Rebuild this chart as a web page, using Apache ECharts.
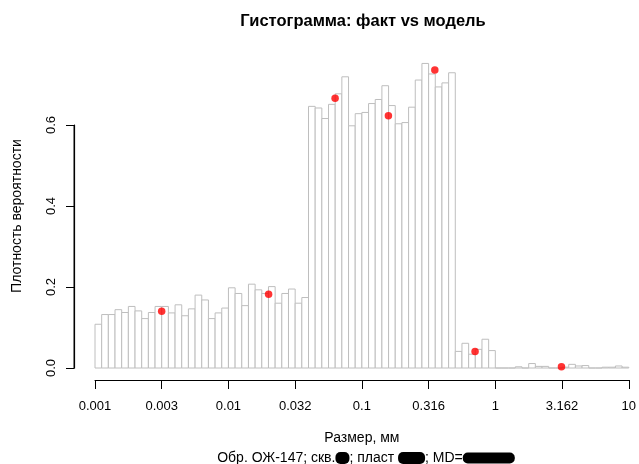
<!DOCTYPE html>
<html>
<head>
<meta charset="utf-8">
<script src="https://cdn.jsdelivr.net/npm/echarts@6/dist/echarts.min.js"></script>
<style>
  html, body { margin: 0; padding: 0; background: #fff; }
  #chart { width: 639px; height: 464px; }
</style>
</head>
<body>
<div id="chart"></div>
<script>
// Histogram bins: equal width in log10(size), from 0.001 mm to 10 mm
const logMin = -3;
const logMax = 1;

// Observed probability density per bin (80 bins)
const density = [
  0.108, 0.132, 0.132, 0.144, 0.137, 0.152, 0.141, 0.122, 0.137, 0.152,
  0.152, 0.136, 0.156, 0.129, 0.146, 0.180, 0.168, 0.122, 0.136, 0.148,
  0.198, 0.184, 0.154, 0.207, 0.193, 0.184, 0.201, 0.160, 0.184, 0.195,
  0.160, 0.174, 0.646, 0.642, 0.616, 0.651, 0.677, 0.719, 0.598, 0.628,
  0.631, 0.653, 0.663, 0.697, 0.648, 0.603, 0.606, 0.644, 0.711, 0.752,
  0.726, 0.694, 0.704, 0.729, 0.041, 0.061, 0.034, 0.046, 0.071, 0.043,
  0.000, 0.000, 0.000, 0.003, 0.000, 0.011, 0.004, 0.004, 0.000, 0.000,
  0.002, 0.009, 0.005, 0.006, 0.000, 0.000, 0.002, 0.002, 0.005, 0.002
];

// Model density points: size (mm) and density
const modelSize = [0.00316, 0.02, 0.063, 0.158, 0.352, 0.705, 3.13];
const modelDensity = [0.140, 0.182, 0.666, 0.623, 0.736, 0.041, 0.003];

// Axis ticks (log10 positions) and their labels
const xTickStep = 0.5;
const xTickLabels = ['0.001', '0.003', '0.01', '0.032', '0.1', '0.316', '1', '3.162', '10'];
const yTickStep = 0.2;
const yTickLabels = ['0.0', '0.2', '0.4', '0.6'];
const yMax = 0.6;

const binWidth = (logMax - logMin) / density.length;
const bins = density.map((d, i) => [logMin + i * binWidth, logMin + (i + 1) * binWidth, d]);
const points = modelSize.map((s, i) => [Math.log10(s), modelDensity[i]]);

const FONT = '"Liberation Sans", Arial, Helvetica, sans-serif';

const chart = echarts.init(document.getElementById('chart'), null, { renderer: 'canvas' });

chart.setOption({
  animation: false,
  backgroundColor: '#ffffff',
  textStyle: { fontFamily: FONT, color: '#000' },
  title: [
    {
      text: 'Гистограмма: факт vs модель',
      left: 358, top: 8, textAlign: 'center',
      textStyle: { fontFamily: FONT, fontSize: 16.5, fontWeight: 'bold', color: '#000' }
    },
    {
      text: 'Обр. ОЖ-147; скв.{a|}; пласт {b|}; MD={c|}',
      left: 361, top: 446, textAlign: 'center',
      textStyle: {
        fontFamily: FONT, fontSize: 14, fontWeight: 'normal', color: '#000',
        rich: {
          a: { backgroundColor: '#000', borderRadius: 5, width: 14, height: 12 },
          b: { backgroundColor: '#000', borderRadius: 5, width: 27, height: 12 },
          c: { backgroundColor: '#000', borderRadius: 5, width: 52, height: 11 }
        }
      }
    }
  ],
  graphic: [
    {
      id: 'ylab',
      type: 'text',
      x: 17, y: 216,
      rotation: Math.PI / 2,
      style: {
        text: 'Плотность вероятности',
        font: '14px ' + FONT,
        fill: '#000',
        align: 'center',
        verticalAlign: 'middle'
      }
    }
  ],
  grid: [
    // plotting area: x spans 0.001..10, y spans 0..0.6
    { left: 95, right: 8, top: 125, bottom: 96, containLabel: false },
    // strip carrying the density axis; its x = 0 sits left of the bars
    { left: 64, width: 20, top: 125, bottom: 96, containLabel: false }
  ],
  xAxis: [
    {
      type: 'value',
      gridIndex: 0,
      min: logMin, max: logMax, interval: xTickStep,
      offset: 12,
      name: 'Размер, мм',
      nameLocation: 'middle',
      nameGap: 51,
      nameTextStyle: { fontFamily: FONT, fontSize: 14, color: '#000' },
      axisLine: { show: true, onZero: false, lineStyle: { color: '#000', width: 1 } },
      axisTick: { show: true, length: 9, lineStyle: { color: '#000' } },
      axisLabel: {
        fontFamily: FONT, fontSize: 13, color: '#000', margin: 20,
        formatter: v => xTickLabels[Math.round((v - logMin) / xTickStep)]
      },
      splitLine: { show: false }
    },
    {
      type: 'value',
      gridIndex: 1,
      min: -1, max: 1,
      show: false
    }
  ],
  yAxis: [
    {
      type: 'value',
      gridIndex: 0,
      min: 0, max: yMax,
      show: false
    },
    {
      type: 'value',
      gridIndex: 1,
      min: 0, max: yMax, interval: yTickStep,
      axisLine: { show: true, onZero: true, lineStyle: { color: '#000', width: 1 } },
      axisTick: { show: true, length: 8, lineStyle: { color: '#000' } },
      axisLabel: {
        fontFamily: FONT, fontSize: 13, color: '#000', margin: 6, rotate: 90,
        formatter: v => yTickLabels[Math.round(v / yTickStep)]
      },
      splitLine: { show: false }
    }
  ],
  series: [
    {
      type: 'custom',
      xAxisIndex: 0,
      yAxisIndex: 0,
      clip: false,
      data: bins,
      encode: { x: [0, 1], y: 2 },
      renderItem: function (params, api) {
        const p0 = api.coord([api.value(0), 0]);
        const p1 = api.coord([api.value(1), api.value(2)]);
        return {
          type: 'rect',
          shape: { x: p0[0], y: p1[1], width: p1[0] - p0[0], height: p0[1] - p1[1] },
          style: { fill: '#ffffff', stroke: '#bebebe', lineWidth: 1 }
        };
      },
      z: 2
    },
    {
      type: 'scatter',
      xAxisIndex: 0,
      yAxisIndex: 0,
      clip: false,
      data: points,
      symbol: 'circle',
      symbolSize: 7.5,
      itemStyle: { color: '#ff0000' },
      z: 5
    }
  ]
});

// Density axis spine, spanning the tick range 0..yMax on the axis strip
const spineBottom = chart.convertToPixel({ gridIndex: 1 }, [0, 0]);
const spineTop = chart.convertToPixel({ gridIndex: 1 }, [0, yMax]);
chart.setOption({
  graphic: [
    {
      id: 'yspine',
      type: 'rect',
      shape: {
        x: Math.round(spineBottom[0]) - 0.5,
        y: Math.round(spineTop[1]),
        width: 1.6,
        height: Math.round(spineBottom[1]) - Math.round(spineTop[1]) + 0.5
      },
      style: { fill: '#000' },
      z: 10
    }
  ]
});
</script>
</body>
</html>
